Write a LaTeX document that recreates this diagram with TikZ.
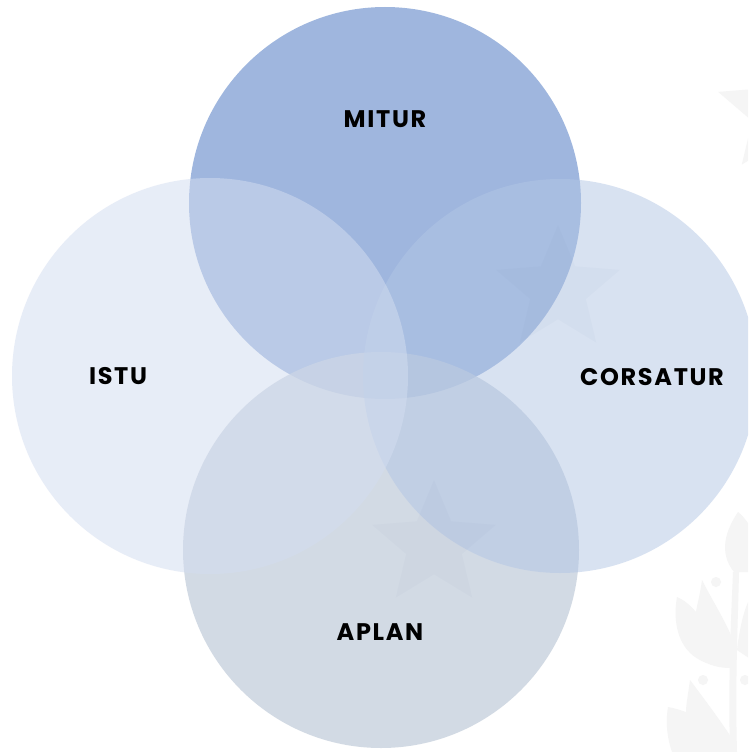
\documentclass[tikz,border=0pt]{standalone}
\usepackage{fontspec}
\setmainfont{Poppins}
\newfontfamily\lblfont[LetterSpace=7]{Poppins}
\usetikzlibrary{calc}
\definecolor{topc}{RGB}{143,170,217}
\definecolor{botc}{RGB}{196,206,219}
\definecolor{rightc}{RGB}{178,198,229}
\definecolor{leftc}{RGB}{211,221,240}
\definecolor{deco}{RGB}{245,245,245}
\definecolor{starc}{RGB}{100,120,165}
\newcommand\vennstar[3]{%
  \fill[#3] (#1) +(90:#2) \foreach \a/\f in {126/0.45,162/1,198/0.45,234/1,270/0.45,306/1,342/0.45,18/1,54/0.45} { -- +(\a:\f*#2) } -- cycle;}
\begin{document}
\begin{tikzpicture}[x=1pt,y=-1pt,
  venn/.style={circle, inner sep=0pt, draw=none},
  lbl/.style={font=\lblfont\bfseries\fontsize{24}{24}\selectfont, text=black, inner sep=0pt}]
\useasboundingbox (0,0) rectangle (748,752);
\clip (0,0) rectangle (748,752);
\fill[white] (0,0) rectangle (748,752);
% background decorations
\coordinate (sg) at (780,112);
\vennstar{sg}{65pt}{deco}
\fill[deco] (738,512) .. controls (726,530) and (718,552) .. (734,572) -- (752,572) -- (752,530) .. controls (748,522) and (742,515) .. (738,512) -- cycle;
\fill[deco] (733,572) .. controls (731,620) and (728,680) .. (730,752) -- (737,752) .. controls (735,680) and (738,620) .. (739,572) -- cycle;
\fill[deco] (677,597) .. controls (672,625) and (680,650) .. (700,660) .. controls (715,668) and (725,668) .. (733,668) -- (733,640) .. controls (725,620) and (712,600) .. (702,580) .. controls (700,595) and (697,605) .. (696,612) .. controls (690,605) and (684,600) .. (677,597) -- cycle;
\fill[deco] (737,650) .. controls (740,625) and (745,605) .. (752,595) -- (752,660) -- cycle;
\fill[deco] (668,707) .. controls (665,725) and (668,740) .. (672,752) -- (733,752) -- (733,740) .. controls (720,720) and (705,700) .. (690,680) .. controls (688,695) and (686,705) .. (686,712) .. controls (680,710) and (674,708) .. (668,707) -- cycle;
\fill[deco] (716,582) circle[radius=5pt];
\fill[deco] (703,680) circle[radius=5pt];
\fill[deco] (745,680) circle[radius=5pt];
% circles
\node[venn, minimum size=392pt, fill=topc, fill opacity=0.85] (mitur) at (385,203) {};
\node[venn, minimum size=396pt, fill=botc, fill opacity=0.75] (aplan) at (381,550) {};
\node[venn, minimum size=394pt, fill=rightc, fill opacity=0.505] (corsatur) at (560,376) {};
\node[venn, minimum size=396pt, fill=leftc, fill opacity=0.526] (istu) at (210,376) {};
% faint stars
\coordinate (s1) at (558,290);
\coordinate (s2) at (434,545);
\vennstar{s1}{65pt}{starc, fill opacity=0.035}
\vennstar{s2}{65pt}{starc, fill opacity=0.035}
% labels
\node[lbl] (lmitur) at (385,119) {MITUR};
\node[lbl] (listu) at (118,376) {ISTU};
\node[lbl] (lcorsatur) at (652,377) {CORSATUR};
\node[lbl] (laplan) at (380,632) {APLAN};
\end{tikzpicture}
\end{document}
